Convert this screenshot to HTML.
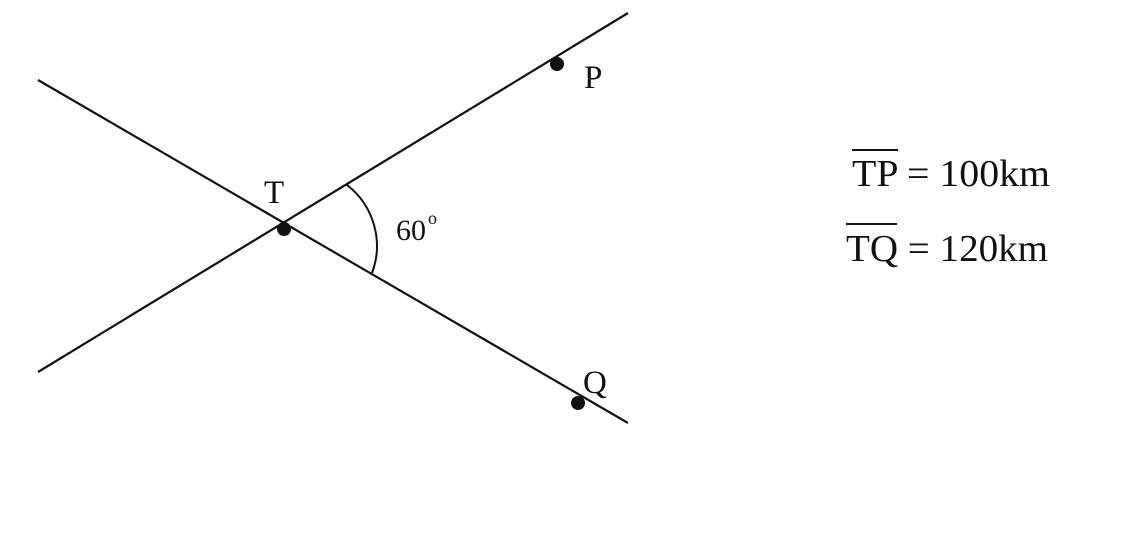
<!DOCTYPE html>
<html><head><style>body{margin:0;background:#fff}svg{display:block}</style></head>
<body>
<svg width="1145" height="551" xmlns="http://www.w3.org/2000/svg" font-family="Liberation Serif, serif" fill="#111">
<line x1="38" y1="372" x2="628" y2="13" stroke="#111" stroke-width="2.2"/>
<line x1="38" y1="80" x2="628" y2="423" stroke="#111" stroke-width="2.2"/>
<path d="M347,185 A 77 77 0 0 1 372,273" fill="none" stroke="#111" stroke-width="2"/>
<circle cx="284" cy="229" r="7"/>
<circle cx="557" cy="64" r="7"/>
<circle cx="578" cy="403" r="7"/>
<text x="264" y="203" font-size="33">T</text>
<text x="584" y="88" font-size="33">P</text>
<text x="583" y="393" font-size="33">Q</text>
<text x="396" y="240" font-size="30">60</text>
<text x="428" y="224" font-size="18">o</text>
<line x1="852" y1="150" x2="898" y2="150" stroke="#111" stroke-width="2"/>
<text x="852" y="186" font-size="38" textLength="198" lengthAdjust="spacingAndGlyphs">TP = 100km</text>
<line x1="846" y1="224" x2="897" y2="224" stroke="#111" stroke-width="2"/>
<text x="846" y="261" font-size="38" textLength="202" lengthAdjust="spacingAndGlyphs">TQ = 120km</text>
</svg>
</body></html>
